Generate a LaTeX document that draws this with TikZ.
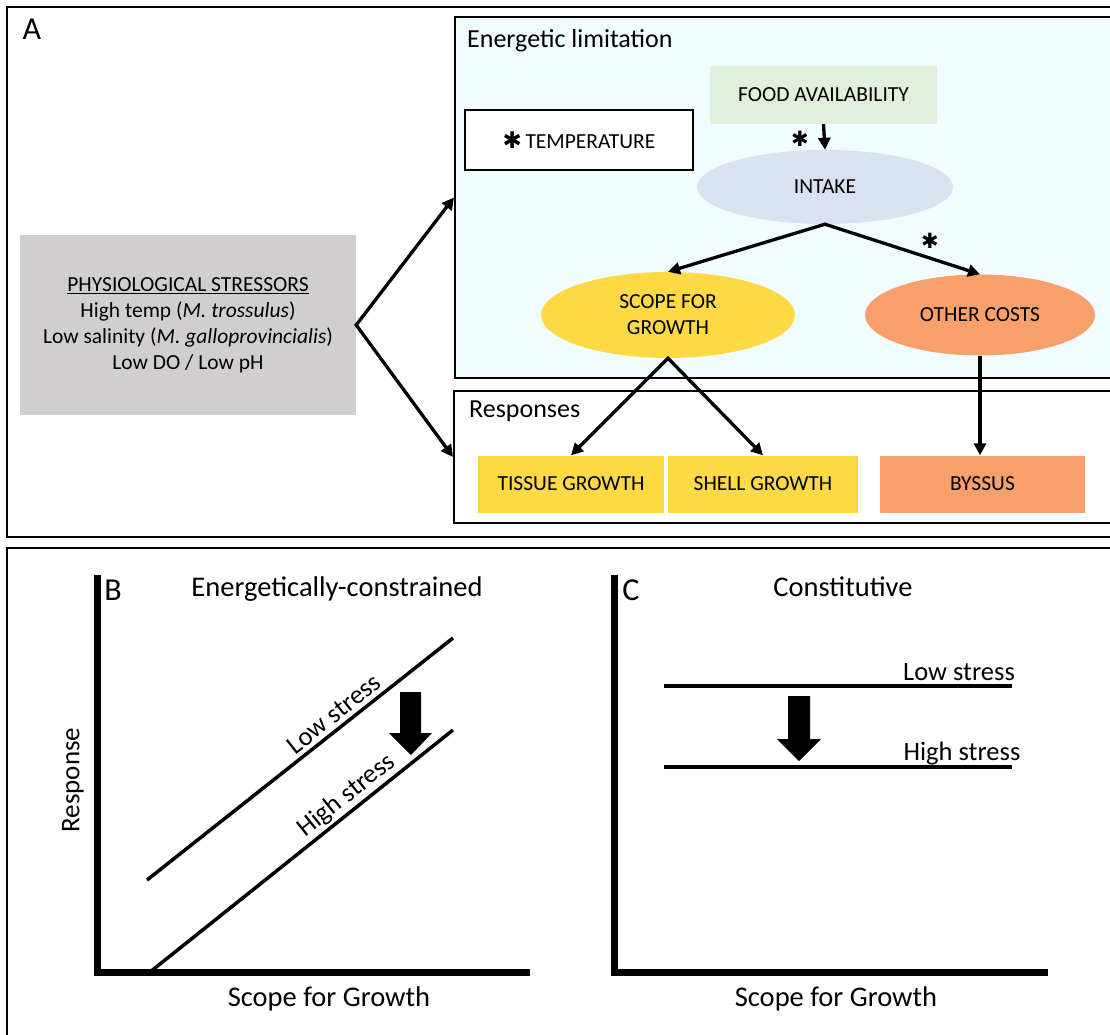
\documentclass[tikz,border=0pt]{standalone}
\usepackage{fontspec}
\setmainfont{Carlito}
\newfontfamily\djv{DejaVu Sans}
\usetikzlibrary{arrows.meta,shapes.geometric}
\definecolor{greybox}{HTML}{D0CECE}
\definecolor{paleCyan}{HTML}{F0FCFD}
\definecolor{paleGreen}{HTML}{E2EFDA}
\definecolor{paleBlue}{HTML}{DAE1F0}
\definecolor{goldfill}{HTML}{FDDA45}
\definecolor{salmon}{HTML}{F8A06C}
\begin{document}
\begin{tikzpicture}[x=1pt,y=-1pt,
  frame/.style={draw,line width=1.9pt},
  fsz/.style={font=\fontsize{21.5}{26}\selectfont},
  rect/.style={rectangle,inner sep=0pt,fsz,align=center},
  ell/.style={ellipse,inner sep=0pt,fsz,align=center},
  conn/.style={line width=3.3pt,-{Triangle[length=12pt,width=12pt]}},
  conn2/.style={line width=3.3pt,{Triangle[length=12pt,width=12pt]}-{Triangle[length=12pt,width=12pt]}},
  star/.style={font=\djv\bfseries\fontsize{21}{21}\selectfont,inner sep=0pt},
  sec/.style={font=\fontsize{26}{30}\selectfont,inner sep=0pt,anchor=west},
  plotlbl/.style={font=\fontsize{28.5}{32}\selectfont,inner sep=0pt},
  panellbl/.style={font=\fontsize{32}{36}\selectfont,inner sep=0pt},
  stresslbl/.style={font=\fontsize{26.5}{30}\selectfont,inner sep=0pt},
  axis/.style={line width=7pt},
  curve/.style={line width=3.5pt},
  bigarrow/.style={fill=black}
]
\useasboundingbox (0,0) rectangle (1110,1034);
% ---------- panel A ----------
\draw[frame] (7,7) rectangle (1125,537);
\node[frame,fill=paleCyan,rectangle,inner sep=0pt,minimum width=671,minimum height=361,anchor=north west] (energ) at (454,16) {};
\node[frame,rectangle,inner sep=0pt,minimum width=672,minimum height=132,anchor=north west] (resp) at (453,390) {};
\node[panellbl] (Albl) at (32,29) {A};
\node[sec] (energlbl) at (467,41) {Energetic limitation};
\node[sec] (resplbl) at (469,411) {Responses};

\node[rect,fill=greybox,minimum width=336,minimum height=180] (stress) at (188,325)
  {\underline{PHYSIOLOGICAL STRESSORS}\\High temp (\textit{M. trossulus})\\Low salinity (\textit{M. galloprovincialis})\\Low DO / Low pH};
\node[rect,fill=paleGreen,minimum width=227,minimum height=58] (food) at (823.5,95) {FOOD AVAILABILITY};
\node[rect,draw,line width=1.9pt,fill=white,minimum width=228,minimum height=60] (temp) at (579,140) {{\djv\bfseries\fontsize{23}{23}\selectfont ✱}\,TEMPERATURE};
\node[ell,fill=paleBlue,minimum width=256,minimum height=74] (intake) at (825,187) {INTAKE};
\node[ell,fill=goldfill,minimum width=254,minimum height=86] (scope) at (668,315) {SCOPE FOR\\GROWTH};
\node[ell,fill=salmon,minimum width=230,minimum height=81] (other) at (980,315) {OTHER COSTS};
\node[rect,fill=goldfill,minimum width=186,minimum height=57] (tissue) at (571,484) {TISSUE GROWTH};
\node[rect,fill=goldfill,minimum width=190,minimum height=57] (shell) at (763,484) {SHELL GROWTH};
\node[rect,fill=salmon,minimum width=205,minimum height=57] (byssus) at (982.5,484) {BYSSUS};
\node[star] (star1) at (800,139) {✱};
\node[star] (star2) at (930,241) {✱};

\draw[conn2] (energ.west) -- (stress.east) -- (resp.west);
\draw[conn] (food.south) -- (intake.north);
\draw[conn2] (scope.north) -- (intake.south) -- (other.north);
\draw[conn2] (tissue.north) -- (scope.south) -- (shell.north);
\draw[conn] (other.south) -- (other.south |- byssus.north);

% ---------- panels B and C ----------
\draw[frame] (7,548) rectangle (1125,1050);
% B
\draw[axis] (97,575) -- (97,972.5) -- (530,972.5);
\draw[curve] (147,880) -- (453,638) node[pos=0.64,sloped,above=4pt,stresslbl] (lowB) {Low stress};
\draw[curve] (150,972) -- (453,730) node[pos=0.68,sloped,above=2pt,stresslbl] (highB) {High stress};
\fill[bigarrow] (400,692) -- (421,692) -- (421,733) -- (432,733) -- (411,755) -- (389,733) -- (400,733) -- cycle;
\node[panellbl] (Blbl) at (113,590) {B};
\node[plotlbl] (Btitle) at (337,589) {Energetically-constrained};
\node[plotlbl] (Bx) at (329,999) {Scope for Growth};
\node[font=\fontsize{27}{30}\selectfont,inner sep=0pt,rotate=90] (By) at (73,780) {Response};
% C
\draw[axis] (614,575) -- (614,972.5) -- (1048,972.5);
\draw[curve] (664,686) -- (1012,686);
\draw[curve] (664,767) -- (1012,767);
\node[stresslbl] (lowC) at (959,672) {Low stress};
\node[stresslbl] (highC) at (962,754) {High stress};
\fill[bigarrow] (788,696) -- (810,696) -- (810,739) -- (821,739) -- (799,761) -- (777,739) -- (788,739) -- cycle;
\node[panellbl] (Clbl) at (631,590) {C};
\node[plotlbl] (Ctitle) at (843,587) {Constitutive};
\node[plotlbl] (Cx) at (836,999) {Scope for Growth};
\end{tikzpicture}
\end{document}
